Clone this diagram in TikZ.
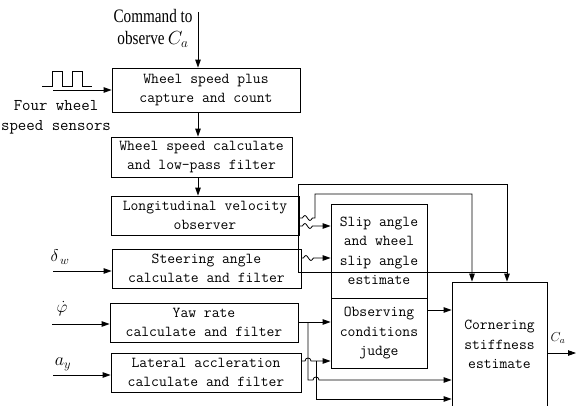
\documentclass[tikz,border=0pt]{standalone}
\usepackage{fix-cm}
\usepackage{fontspec}
\setmainfont{Liberation Serif}
\usetikzlibrary{arrows.meta}
\begin{document}
\begin{tikzpicture}[x=1pt,y=-1pt,
  blk/.style={draw, line width=0.8pt, inner sep=0pt, align=center,
    font=\fontsize{15.2}{19.5}\selectfont\ttfamily},
  ln/.style={line width=0.8pt},
  arr/.style={ln, -{Triangle[length=8pt,width=5.5pt]}},
  lbl/.style={inner sep=0pt, align=center},
]
\useasboundingbox (0,0) rectangle (576,405);
\clip (0,0) rectangle (576,405);

% blocks
\node[blk, minimum width=188pt, minimum height=44pt] (b1) at (206,90) {Wheel speed plus\\capture and count};
\node[blk, minimum width=181pt, minimum height=40pt] (b2) at (201.5,157) {Wheel speed calculate\\and low-pass filter};
\node[blk, minimum width=188pt, minimum height=39pt] (b3) at (205,215.5) {Longitudinal velocity\\observer};
\node[blk, minimum width=189pt, minimum height=39pt] (b4) at (206.5,268.5) {Steering angle\\calculate and filter};
\node[blk, minimum width=188pt, minimum height=39pt] (b5) at (204,322.5) {Yaw rate\\calculate and filter};
\node[blk, minimum width=190pt, minimum height=39pt] (b6) at (206,372.5) {Lateral accleration\\calculate and filter};
\node[blk, minimum width=96pt, minimum height=94pt] (slip) at (379,251) {Slip angle\\and wheel\\slip angle\\estimate};
\node[blk, minimum width=96pt, minimum height=70pt] (obs) at (379,333) {Observing\\conditions\\judge};
\node[blk, minimum width=95pt, minimum height=125pt] (cs) at (499.5,344.5) {Cornering\\stiffness\\estimate};

% labels
\node[lbl, font=\fontsize{19}{22}\selectfont\addfontfeatures{FakeStretch=0.8}] (cmd) at (153,28) {Command to\\observe$\,C_a$};
\node[lbl, font=\fontsize{16.4}{20}\selectfont\ttfamily] (sens) at (56,117) {Four wheel\\speed sensors};
\node[lbl, font=\fontsize{17}{20}\selectfont] (dw) at (60,257) {$\delta_{\,w}$};
\node[lbl, font=\fontsize{17}{20}\selectfont] (phi) at (62,309) {$\dot{\varphi}$};
\node[lbl, font=\fontsize{18}{20}\selectfont] (ay) at (63,364) {$a_y$};
\node[lbl, font=\fontsize{13}{14}\selectfont] (ca) at (558,338) {$C_a$};

% coordinates
\coordinate (cmdtop) at (198,12);
\coordinate (p0) at (42,86);
\coordinate (sensin) at (53,90);
\coordinate (dwin) at (53,271);
\coordinate (phiin) at (52,324);
\coordinate (ayin) at (53,375);
\coordinate (caout) at (576,353);

% pulse train
\draw[ln] (p0) -- ++(10,0) -- ++(0,-15) -- ++(10,0) -- ++(0,15) -- ++(10,0) -- ++(0,-15) -- ++(10,0) -- ++(0,15) -- ++(10,0);

% vertical chain
\draw[arr] (cmdtop) -- (cmdtop |- b1.north);
\draw[arr] (cmdtop |- b1.south) -- (cmdtop |- b2.north);
\draw[arr] (cmdtop |- b2.south) -- (cmdtop |- b3.north);
\draw[arr] (sensin) -- (b1.west |- sensin);

% inputs
\draw[arr] (dwin) -- (b4.west |- dwin);
\draw[arr] (phiin) -- (b5.west |- phiin);
\draw[arr] (ayin) -- (b6.west |- ayin);

% longitudinal velocity outputs
\draw[arr] (b3.east |- 0,218) -- ++(3,0) sin ++(2.5,-2.5) cos ++(2.5,2.5) sin ++(2.5,2.5) cos ++(2.5,-2.5)
  -- (315,218) -- (315,194) -- (472,194) -- (cs.north -| 472,0);
\draw[arr] (b3.east |- 0,226) -- ++(3,0) sin ++(2.5,-2.5) cos ++(2.5,2.5) sin ++(2.5,2.5) cos ++(2.5,-2.5)
  -- (slip.west |- 0,226);

% steering outputs
\draw[arr] (b4.east |- 0,258) -- ++(2,0) sin ++(2.5,-2.5) cos ++(2.5,2.5) sin ++(2.5,2.5) cos ++(2.5,-2.5)
  -- (slip.west |- 0,258);
\draw[arr] (507,272) -- (298,272) -- (298,184) -- (507,184) -- (cs.north -| 507,0);

% yaw rate outputs
\draw[arr] (b5.east |- 0,322) -- (obs.west |- 0,322);
\draw[arr] (308,322) -- (308,380) -- (313,380) .. controls (313,376) and (319,376) .. (319,380) -- (cs.west |- 0,380);

% lateral outputs
\draw[arr] (b6.east |- 0,361) -- (305,361) .. controls (305,357) and (311,357) .. (311,361) -- (obs.west |- 0,361);
\draw[arr] (316,361) -- (316,399) -- (cs.west |- 0,399);

% observing to cornering
\draw[arr] (obs.east |- 0,310) -- (cs.west |- 0,310);

% output
\draw[arr] (cs.east |- caout) -- (caout);
\end{tikzpicture}
\end{document}
